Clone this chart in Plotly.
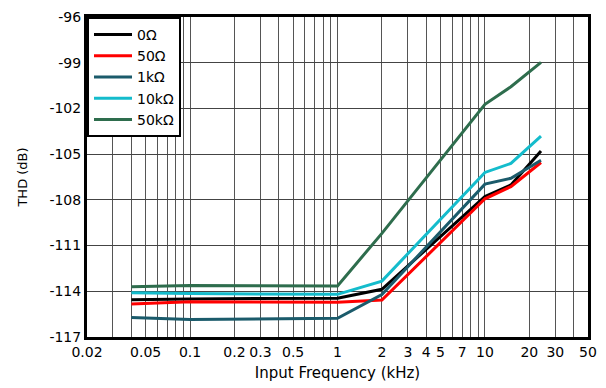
import math
import plotly.graph_objects as go

# Data
freq_khz = [0.04, 0.1, 1, 2, 10, 15, 24]
thd_0 = [-114.55, -114.5, -114.45, -113.87, -107.78, -107.02, -104.79]
thd_50 = [-114.84, -114.69, -114.72, -114.58, -107.93, -107.13, -105.55]
thd_1k = [-115.72, -115.85, -115.77, -114.21, -106.97, -106.58, -105.40]
thd_10k = [-114.1, -114.15, -114.2, -113.33, -106.2, -105.61, -103.82]
thd_50k = [-113.71, -113.62, -113.65, -110.2, -101.73, -100.58, -98.98]

series_names = ["0Ω", "50Ω", "1kΩ", "10kΩ", "50kΩ"]
series_values = [thd_0, thd_50, thd_1k, thd_10k, thd_50k]
series_colors = ["#000000", "#ff0000", "#1b5b6b", "#14bccc", "#2e6d4d"]

x_grid_vals = [0.02, 0.03, 0.04, 0.05, 0.06, 0.07, 0.08, 0.09,
               0.1, 0.2, 0.3, 0.4, 0.5, 0.6, 0.7, 0.8, 0.9,
               1, 2, 3, 4, 5, 6, 7, 8, 9,
               10, 20, 30, 40, 50]
x_labeled = {0.02: "0.02", 0.05: "0.05", 0.1: "0.1", 0.2: "0.2", 0.3: "0.3",
             0.5: "0.5", 1: "1", 2: "2", 3: "3", 4: "4", 5: "5", 7: "7",
             10: "10", 20: "20", 30: "30", 50: "50"}
x_tick_text = [x_labeled.get(v, "") for v in x_grid_vals]

y_tick_vals = [-117, -114, -111, -108, -105, -102, -99, -96]
y_tick_text = ["-117", "-114", "-111", "-108", "-105", "-102", "-99", "-96"]

FONT = "DejaVu Sans, Arial, sans-serif"

fig = go.Figure()
for name, vals, col in zip(series_names, series_values, series_colors):
    fig.add_trace(go.Scatter(x=freq_khz, y=vals, mode="lines", name=name,
                             line=dict(color=col, width=3)))

fig.update_layout(
    width=606, height=388,
    margin=dict(l=87, r=9, t=15, b=49),
    paper_bgcolor="white", plot_bgcolor="white",
    font=dict(family=FONT, size=14, color="black"),
    legend=dict(x=0, y=1, xanchor="left", yanchor="top",
                bgcolor="white", bordercolor="black", borderwidth=2,
                font=dict(family=FONT, size=14), itemwidth=38,
                tracegroupgap=0),
    showlegend=True,
)
fig.update_xaxes(
    type="log", range=[math.log10(0.02), math.log10(50)],
    tickmode="array", tickvals=x_grid_vals, ticktext=x_tick_text,
    showgrid=True, gridcolor="#555555", gridwidth=1,
    showline=True, linecolor="black", linewidth=3, mirror=True,
    ticks="", zeroline=False,
    tickfont=dict(family=FONT, size=14),
    title=dict(text="Input Frequency (kHz)", font=dict(family=FONT, size=15), standoff=9),
)
fig.update_yaxes(
    range=[-117, -96], tickmode="array", tickvals=y_tick_vals, ticktext=y_tick_text,
    showgrid=True, gridcolor="#444444", gridwidth=1,
    showline=True, linecolor="black", linewidth=3, mirror=True,
    ticks="", zeroline=False,
    tickfont=dict(family=FONT, size=14),
    title=dict(text="THD (dB)", font=dict(family=FONT, size=13), standoff=19),
)

fig.write_html("out.html")
